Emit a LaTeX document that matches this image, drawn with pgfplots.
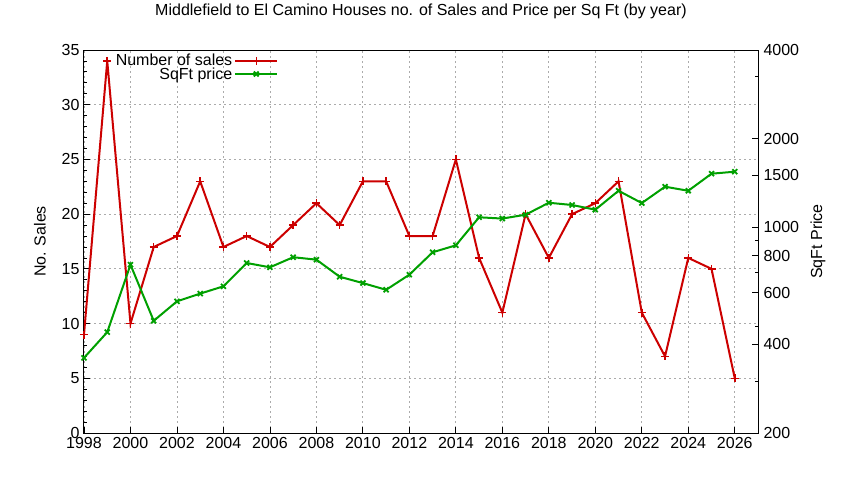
\documentclass[border=0pt]{standalone}
\usepackage{pgfplots}
\pgfplotsset{compat=1.18}
\usepackage{fontspec}
\setmainfont{Liberation Sans}
\definecolor{salesred}{RGB}{204,0,0}
\definecolor{pricegreen}{RGB}{0,160,0}
\begin{document}
\begin{tikzpicture}[x=1pt,y=1pt]
\path[use as bounding box] (-84,-50) rectangle (760,433);
\pgfplotsset{
  every axis/.append style={
    width=674pt, height=383pt, scale only axis,
    at={(0,0)}, anchor=south west,
    xmin=1998, xmax=2027,
    tick align=inside,
    major tick length=6pt, minor tick length=3pt,
    every tick/.style={black, line width=0.8pt},
    axis line style={line width=1pt},
    /pgf/number format/assume math mode=true,
    tick label style={font=\fontsize{16}{18}\selectfont},
    label style={font=\fontsize{16}{18}\selectfont},
  },
}
\begin{axis}[
  ymin=0, ymax=35,
  ytick={0,5,...,35}, minor y tick num=4,
  xtick={1998,2000,...,2026}, minor x tick num=1,
  xticklabel style={/pgf/number format/1000 sep={}, yshift=-1pt},
  yticklabel style={xshift=-1pt},
  xtick pos=bottom, ytick pos=left,
  grid=major,
  major grid style={color=black!33, line width=0.8pt, dash pattern=on 2pt off 3pt},
  ylabel={No. Sales},
  ylabel style={at={(rel axis cs:-0.0653,0.5)}, anchor=center},
  title={Middlefield to El Camino Houses no. of Sales and Price per Sq Ft (by year)},
  title style={at={(rel axis cs:0.5,1.086)}, anchor=center, font=\fontsize{16}{18}\selectfont},
]
\addplot[salesred, line width=2pt, mark=+, mark size=4pt, mark options={line width=1.5pt}] coordinates {
  (1998,9) (1999,34) (2000,10) (2001,17) (2002,18) (2003,23) (2004,17)
  (2005,18) (2006,17) (2007,19) (2008,21) (2009,19) (2010,23) (2011,23)
  (2012,18) (2013,18) (2014,25) (2015,16) (2016,11) (2017,20) (2018,16)
  (2019,20) (2020,21) (2021,23) (2022,11) (2023,7) (2024,16) (2025,15)
  (2026,5)
};
\end{axis}
\begin{axis}[
  ymode=log, ymin=200, ymax=4000,
  axis y line*=right, axis x line=none,
  ytick={200,400,600,800,1000,1500,2000,4000},
  yticklabels={200,400,600,800,1000,1500,2000,4000},
  minor ytick={300,462,700,900,3250},
  yticklabel style={xshift=2pt},
  ylabel={SqFt Price},
  ylabel style={at={(rel axis cs:1.089,0.5)}, anchor=center},
  legend style={draw=none, fill=none, at={(rel axis cs:0.29,0.997)}, anchor=north east,
    font=\fontsize{16}{18}\selectfont, row sep=-4pt, inner sep=1pt},
  legend cell align=right,
  legend plot pos=right,
  legend image code/.code={\draw[mark repeat=2, mark phase=2, #1] plot coordinates {(0pt,0pt) (21pt,0pt) (42pt,0pt)};},
]
\addlegendimage{salesred, line width=2pt, mark=+, mark size=4pt, mark options={line width=1.5pt}}
\addlegendentry{Number of sales}
\addplot[pricegreen, line width=2pt, mark=x, mark size=3.5pt, mark options={line width=1.8pt}] coordinates {
  (1998,360) (1999,440) (2000,746) (2001,481) (2002,560) (2003,595) (2004,630)
  (2005,756) (2006,731) (2007,791) (2008,776) (2009,679) (2010,646) (2011,613)
  (2012,690) (2013,822) (2014,868) (2015,1081) (2016,1070) (2017,1103) (2018,1211)
  (2019,1190) (2020,1147) (2021,1330) (2022,1208) (2023,1373) (2024,1330) (2025,1520)
  (2026,1544)
};
\addlegendentry{SqFt price}
\end{axis}
\end{tikzpicture}
\end{document}
